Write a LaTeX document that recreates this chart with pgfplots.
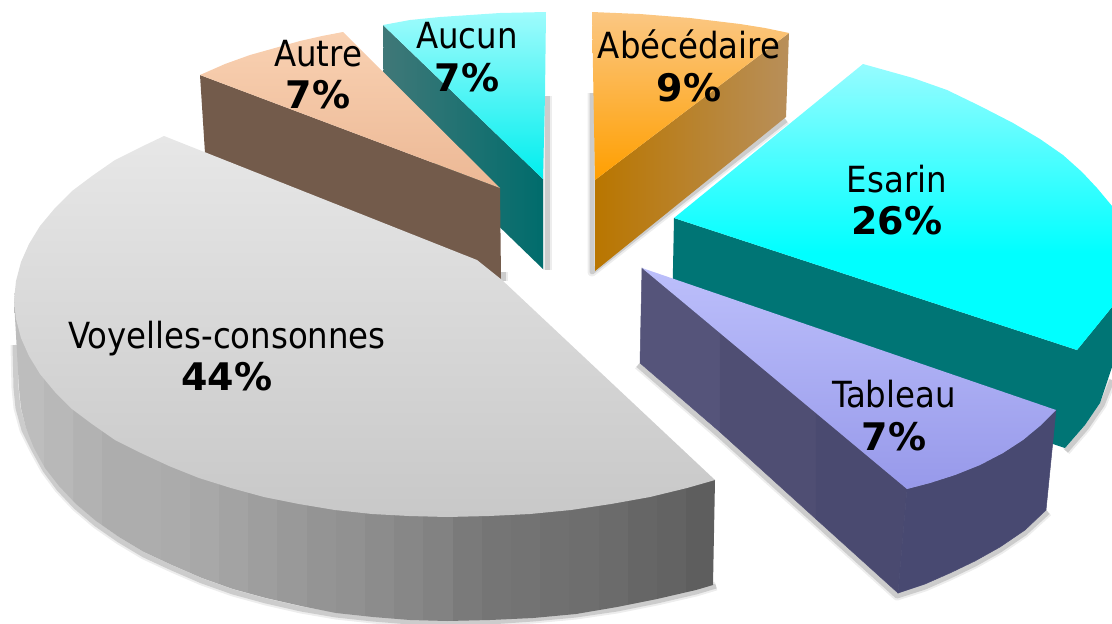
\documentclass[border=0pt]{standalone}
\usepackage{pgfplots}
\pgfplotsset{compat=1.18}
\usepackage{fontspec}
\setmainfont{DejaVu Sans Condensed}
\newfontfamily\pctfont{DejaVu Sans Bold}
\definecolor{auL}{HTML}{407878}\definecolor{auR}{HTML}{006C6C}
\definecolor{abL}{HTML}{B97600}\definecolor{abR}{HTML}{B88F5A}
\definecolor{auT}{HTML}{9FFBFC}\definecolor{auB}{HTML}{00EEEE}
\definecolor{esT}{HTML}{96FCFF}\definecolor{esB}{HTML}{00FFFF}
\definecolor{taA}{RGB}{85,84,122}\definecolor{taB}{RGB}{79,78,115}\definecolor{taC}{RGB}{74,74,112}\definecolor{taD}{RGB}{72,73,113}
\pgfdeclareverticalshading{esarintop}{100bp}{color(0bp)=(esB);color(42bp)=(esB);color(75bp)=(esT);color(100bp)=(esT)}
\pgfdeclarehorizontalshading{greywall}{100bp}{
color(0bp)=(black!26);color(27.08bp)=(black!26);color(27.08bp)=(black!28);color(29.17bp)=(black!28);color(29.17bp)=(black!30);
color(31.25bp)=(black!30);color(31.25bp)=(black!32);color(35.42bp)=(black!32);color(35.42bp)=(black!33);
color(37.5bp)=(black!33);color(37.5bp)=(black!34);color(39.58bp)=(black!34);color(39.58bp)=(black!36);
color(41.67bp)=(black!36);color(41.67bp)=(black!38);color(43.75bp)=(black!38);color(43.75bp)=(black!40);
color(45.83bp)=(black!40);color(45.83bp)=(black!42);color(47.92bp)=(black!42);color(47.92bp)=(black!43);
color(50bp)=(black!43);color(50bp)=(black!45);color(52.08bp)=(black!45);color(52.08bp)=(black!47);
color(54.17bp)=(black!47);color(54.17bp)=(black!49);color(56.25bp)=(black!49);color(56.25bp)=(black!52);
color(58.33bp)=(black!52);color(58.33bp)=(black!54);color(60.42bp)=(black!54);color(60.42bp)=(black!55);
color(62.5bp)=(black!55);color(62.5bp)=(black!56);color(64.58bp)=(black!56);color(64.58bp)=(black!57);
color(66.67bp)=(black!57);color(66.67bp)=(black!58);color(68.75bp)=(black!58);color(68.75bp)=(black!60);
color(70.83bp)=(black!60);color(70.83bp)=(black!61);color(72.92bp)=(black!61);color(72.92bp)=(black!63);
color(100bp)=(black!63)}
\newcommand{\lab}[5]{%
 \node[anchor=base,inner sep=0pt,font=\fontsize{36}{40}\selectfont] at (axis cs:#1,#2) {#3};
 \node[anchor=base,inner sep=0pt,font=\fontsize{38}{40}\selectfont\pctfont] at (axis cs:#1,#4) {#5};}
\newcommand{\shadow}[1]{%
 \addplot[draw=black,line width=9pt,opacity=.07,line join=round] coordinates {#1};
 \addplot[draw=black,line width=5pt,opacity=.14,line join=round] coordinates {#1};}
\begin{document}
\begin{tikzpicture}
\begin{axis}[scale only axis,width=1112pt,height=624pt,xmin=0,xmax=1112,ymin=0,ymax=624,y dir=reverse,hide axis,clip=true]
\addplot[draw=none,forget plot] coordinates {(0,0)(1112,624)};
% shadows of the back slices
\shadow{(547,96)(547,270)}
\shadow{(592,93)(592,272)(786,120)}
\shadow{(503,281)(503,272)}
% Aucun
\addplot[draw=none,left color=auL,right color=auR] coordinates {(383,25)(543,179)(543,269)(384,115)} --cycle;
\addplot[draw=none,top color=auT,bottom color=auB] coordinates {(383,25)(410,20)(440,17)(470,15)(500,13)(546,12)(545,95)(543,179)} --cycle;
% Abecedaire
\addplot[draw=none,left color=abL,right color=abR] coordinates {(595,180)(789,33)(786,117)(595,271)} --cycle;
\addplot[draw=none,top color={rgb,255:red,251;green,199;blue,131},bottom color={rgb,255:red,255;green,159;blue,0}] coordinates {(592,12)(640,14)(665,16)(690,18)(715,21)(740,24)(765,28)(789,33)(595,180)} --cycle;
% Autre
\addplot[draw=none,fill={rgb,255:red,115;green,91;blue,75}] coordinates {(200,75)(500,188)(501,279)(205,153)} --cycle;
\addplot[draw=none,top color={rgb,255:red,249;green,209;blue,178},bottom color={rgb,255:red,236;green,184;blue,149}] coordinates {(200,75)(225,64)(250,55)(275,48)(300,41)(322,36)(343,32)(500,188)} --cycle;
% Esarin
\shadow{(1066,451)(1086,428)(1102,405)(1112,380)}
\addplot[draw=none,fill={rgb,255:red,0;green,117;blue,117}] coordinates {(674,218)(1077,350)(1112,307)(1112,367)(1100,403)(1085,425)(1065,448)(672,318)} --cycle;
\addplot[draw=none,shading=esarintop] coordinates {(674,218)(863,64)(888,71)(913,78)(947,90)(980,106)(1013,123)(1040,139)(1063,155)(1082,172)(1097,188)(1112,206)(1112,307)(1095,328)(1077,350)} --cycle;
% Tableau
\shadow{(638,365)(720,436)(897,596)(925,587)(950,576)(975,564)(1000,550)(1025,533)(1048,512)}
\addplot[draw=taA,line width=.5pt,fill=taA] coordinates {(642,268)(720,333)(720,432)(640,363)} --cycle;
\addplot[draw=taB,line width=.5pt,fill=taB] coordinates {(720,333)(816,413)(816,519)(720,432)} --cycle;
\addplot[draw=taC,line width=.5pt,fill=taC] coordinates {(816,413)(907,489)(898,593)(816,519)} --cycle;
\addplot[draw=taD,line width=.5pt,fill=taD] coordinates {(907,489)(930,483)(955,475)(980,465)(1003,453)(1023,440)(1040,426)(1056,410)(1046,510)(1025,530)(1000,547)(975,561)(950,573)(925,584)(898,593)} --cycle;
\addplot[draw=none,top color={rgb,255:red,188;green,191;blue,251},bottom color={rgb,255:red,151;green,153;blue,234}] coordinates {(642,268)(1056,410)(1040,426)(1023,440)(1003,453)(980,465)(955,475)(930,483)(907,489)} --cycle;
% Voyelles-consonnes
\shadow{(716,586)(696,592)(657,601)(617,609)(576,615)(533,619)(490,622)(447,623)(410,622)(373,619)(336,615)(301,609)(266,601)(233,592)(202,581)(172,568)(144,555)(119,540)(96,524)(76,507)(59,489)(45,470)(34,450)(24,430)(18,408)(16,388)(15,345)}
\addplot[draw=none,shading=greywall] coordinates {(14,300)(715,480)(713,585)(696,590)(657,599)(617,607)(576,614)(533,618)(490,620)(447,621)(410,620)(373,617)(336,613)(301,606)(266,598)(233,589)(202,578)(172,565)(144,552)(119,537)(96,521)(76,504)(59,486)(45,468)(34,448)(26,428)(21,408)(19,388)} --cycle;
\addplot[draw=none,top color={rgb,255:red,231;green,231;blue,231},bottom color={rgb,255:red,200;green,200;blue,200}] coordinates {(164,136)(141,147)(115,160)(92,176)(72,191)(55,208)(40,226)(29,244)(21,262)(16,281)(14,300)(16,319)(21,338)(29,356)(40,374)(55,392)(72,409)(92,424)(115,440)(141,453)(169,466)(199,478)(231,488)(264,497)(299,504)(335,510)(372,514)(409,516)(447,517)(489,516)(530,514)(571,510)(611,504)(650,497)(687,488)(715,480)(502,280)(477,260)} --cycle;
% labels
\lab{318}{66}{Autre}{108}{7\%}
\lab{467}{48}{Aucun}{91}{7\%}
\lab{689}{58}{Abécédaire}{101}{9\%}
\lab{897}{192}{Esarin}{234}{26\%}
\lab{894}{407}{Tableau}{450}{7\%}
\lab{227}{348}{Voyelles-consonnes}{390}{44\%}
\end{axis}
\end{tikzpicture}
\end{document}
